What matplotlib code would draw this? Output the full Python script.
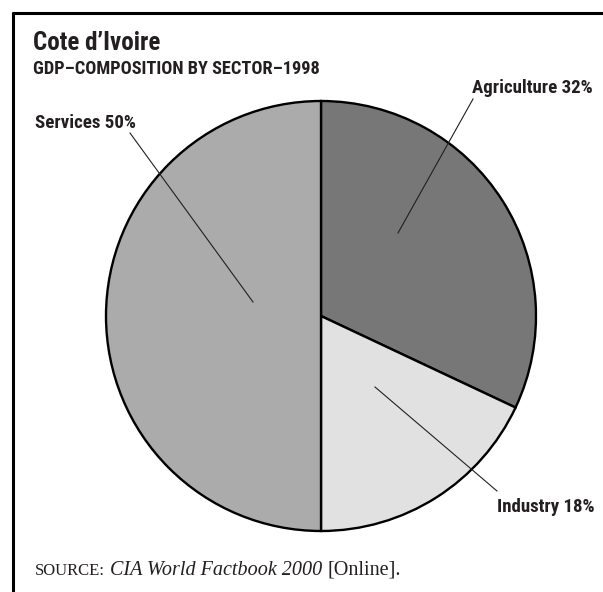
import matplotlib
matplotlib.use("Agg")
import matplotlib.pyplot as plt
from matplotlib import font_manager as fm

categories = ["Agriculture", "Industry", "Services"]
values = [32, 18, 50]
colors = ["#777777", "#e1e1e1", "#ababab"]

W, H = 603, 592
fig = plt.figure(figsize=(W / 100, H / 100), dpi=100)
ax = fig.add_axes([0, 0, 1, 1])

# find a bold condensed font if any is installed
pref = ["Roboto Condensed", "Liberation Sans Narrow", "Open Sans Condensed", "DejaVu Sans"]
cands = []
for f in fm.fontManager.ttflist:
    st = str(f.stretch)
    if st in ("condensed", "semi-condensed", "extra-condensed") or "Condensed" in f.name or "Narrow" in f.name \
            or "ondensed" in f.fname or "Narrow" in f.fname:
        if (isinstance(f.weight, int) and f.weight >= 600) or f.weight in ("bold", "heavy", "demibold", "semibold") \
                or "Bold" in f.fname:
            if "Oblique" in f.fname or "Italic" in f.fname:
                continue
            cands.append(f)
if cands:
    cands.sort(key=lambda f: (pref.index(f.name) if f.name in pref else 99, len(f.fname)))
    cond_fp = fm.FontProperties(fname=cands[0].fname)
    have_cond = True
else:
    cond_fp = fm.FontProperties(family="DejaVu Sans", weight="bold")
    have_cond = False

names = {f.name for f in fm.fontManager.ttflist}
serif = "Liberation Serif" if "Liberation Serif" in names else "DejaVu Serif"

def Y(y):
    return H - y

def ctext(x, y, s, size, **kw):
    fp = cond_fp.copy()
    fp.set_size(size if have_cond else size * 0.8)
    return ax.text(x, Y(y), s, fontproperties=fp, color="#231f20", va="baseline", **kw)

cx, cy, r = 321, Y(316), 215
ax.pie(values, colors=colors, startangle=90, counterclock=False,
       center=(cx, cy), radius=r, frame=True,
       wedgeprops=dict(edgecolor="black", linewidth=1.7))
ax.set_xlim(0, W)
ax.set_ylim(0, H)
ax.set_aspect("auto")
ax.axis("off")

# frame (top and left)
ax.plot([12, W], [Y(12.5), Y(12.5)], color="black", lw=2.2, solid_capstyle="butt")
ax.plot([13, 13], [Y(11.5), 0], color="black", lw=2.2, solid_capstyle="butt")

ctext(33, 50, "Cote d\u2019Ivoire", 18, ha="left")
ctext(33, 74.5, "GDP\u2013COMPOSITION BY SECTOR\u20131998", 13.2, ha="left")

labels = [f"{c} {v}%" for c, v in zip(categories, values)]
lead = [((398, 233), (473, 99)), ((375, 387), (497, 491)), ((253, 302), (130, 133))]
lpos = [(593, 93, "right"), (595, 511.5, "right"), (35, 127.5, "left")]
for (p0, p1), (lx, ly, ha), lab in zip(lead, lpos, labels):
    ax.plot([p0[0], p1[0]], [Y(p0[1]), Y(p1[1])], color="#231f20", lw=0.8)
    ctext(lx, ly, lab, 13.6, ha=ha)

# source line
fig.canvas.draw()
rend = fig.canvas.get_renderer()
x = 35
parts = [("SOURCE:", dict(fontsize=12), 5),
         ("CIA World Factbook 2000", dict(fontsize=14.5, style="italic"), 5),
         ("[Online].", dict(fontsize=14.5), 0)]
for txt, kw, gap in parts:
    t = ax.text(x, Y(575), txt, family=serif, color="#231f20", va="baseline", ha="left", **kw)
    bb = t.get_window_extent(renderer=rend)
    x += bb.width + gap

fig.savefig("out.png", dpi=100)
